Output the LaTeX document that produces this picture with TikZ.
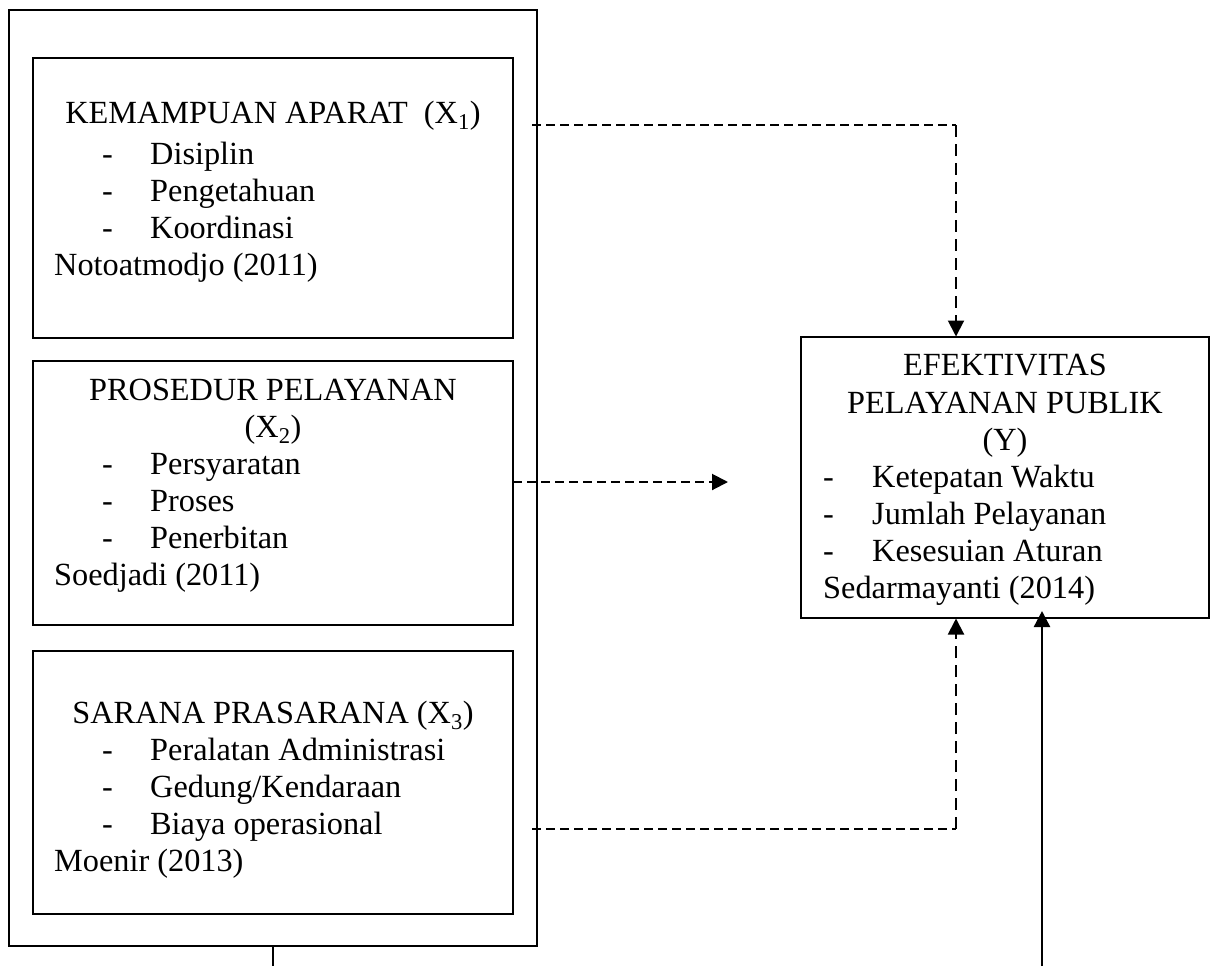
\documentclass[tikz,border=0pt]{standalone}
\usepackage{fontspec}
\setmainfont{Liberation Serif}
\usetikzlibrary{arrows.meta}
\begin{document}
\begin{tikzpicture}[x=1pt,y=-1pt,
  boxnode/.style={draw, line width=2pt, inner sep=0pt, minimum width=#1},
  txt/.style={inner sep=0pt, font=\fontsize{32.3}{37}\selectfont},
  hdash/.style={line width=2pt, dash pattern=on 9pt off 5pt},
  vdash/.style={line width=2pt, dash pattern=on 12pt off 7pt},
  tip/.style={-{Triangle[length=16pt,width=16pt]}},
  solidconn/.style={line width=2.4pt}]
\useasboundingbox (0,0) rectangle (1217,966);
% boxes
\node[boxnode=528pt, minimum height=936pt] (outer) at (273,478) {};
\node[boxnode=480pt, minimum height=280pt] (b1) at (273,198) {};
\node[boxnode=480pt, minimum height=264pt] (b2) at (273,493) {};
\node[boxnode=480pt, minimum height=263pt] (b3) at (273,782.5) {};
\node[boxnode=408pt, minimum height=281pt] (yb) at (1005,477.5) {};
% box 1 text
\node[txt, anchor=base] (t1a) at (273,123) {KEMAMPUAN APARAT\ \ (X\textsubscript{1})};
\node[txt, anchor=base west] (t1b1) at (102,164) {-};
\node[txt, anchor=base west] (t1b) at (150,164) {Disiplin};
\node[txt, anchor=base west] (t1c1) at (102,201) {-};
\node[txt, anchor=base west] (t1c) at (150,201) {Pengetahuan};
\node[txt, anchor=base west] (t1d1) at (102,238) {-};
\node[txt, anchor=base west] (t1d) at (150,238) {Koordinasi};
\node[txt, anchor=base west] (t1e) at (54,275) {Notoatmodjo (2011)};
% box 2 text
\node[txt, anchor=base] (t2a) at (273,400) {PROSEDUR PELAYANAN};
\node[txt, anchor=base] (t2b) at (273,437) {(X\textsubscript{2})};
\node[txt, anchor=base west] (t2c1) at (102,474) {-};
\node[txt, anchor=base west] (t2c) at (150,474) {Persyaratan};
\node[txt, anchor=base west] (t2d1) at (102,511) {-};
\node[txt, anchor=base west] (t2d) at (150,511) {Proses};
\node[txt, anchor=base west] (t2e1) at (102,548) {-};
\node[txt, anchor=base west] (t2e) at (150,548) {Penerbitan};
\node[txt, anchor=base west] (t2f) at (54,585) {Soedjadi (2011)};
% box 3 text
\node[txt, anchor=base] (t3a) at (273,723) {SARANA PRASARANA (X\textsubscript{3})};
\node[txt, anchor=base west] (t3b1) at (102,760) {-};
\node[txt, anchor=base west] (t3b) at (150,760) {Peralatan Administrasi};
\node[txt, anchor=base west] (t3c1) at (102,797) {-};
\node[txt, anchor=base west] (t3c) at (150,797) {Gedung/Kendaraan};
\node[txt, anchor=base west] (t3d1) at (102,834) {-};
\node[txt, anchor=base west] (t3d) at (150,834) {Biaya operasional};
\node[txt, anchor=base west] (t3e) at (54,871) {Moenir (2013)};
% Y box text
\node[txt, anchor=base] (tya) at (1005,375) {EFEKTIVITAS};
\node[txt, anchor=base] (tyb) at (1005,413) {PELAYANAN PUBLIK};
\node[txt, anchor=base] (tyc) at (1005,450) {(Y)};
\node[txt, anchor=base west] (tyd1) at (823,487) {-};
\node[txt, anchor=base west] (tyd) at (872,487) {Ketepatan Waktu};
\node[txt, anchor=base west] (tye1) at (823,524) {-};
\node[txt, anchor=base west] (tye) at (872,524) {Jumlah Pelayanan};
\node[txt, anchor=base west] (tyf1) at (823,561) {-};
\node[txt, anchor=base west] (tyf) at (872,561) {Kesesuian Aturan};
\node[txt, anchor=base west] (tyg) at (823,598) {Sedarmayanti (2014)};
% connector end points
\coordinate (c1) at (532,125);
\coordinate (k1) at (956,125);
\coordinate (e1) at (956,336.5);
\coordinate (c2) at (513,482);
\coordinate (e2) at (728,482);
\coordinate (c3) at (532,829);
\coordinate (k3) at (956,829);
\coordinate (e3) at (956,618.5);
\coordinate (c4) at (1042,966);
\coordinate (e4) at (1042,611);
\coordinate (c5) at (273,966);
% connectors
\draw[hdash] (c1) -- (k1);
\draw[vdash, tip] (k1) -- (e1);
\draw[hdash, tip] (c2) -- (e2);
\draw[hdash] (c3) -- (k3);
\draw[vdash, tip] (k3) -- (e3);
\draw[solidconn, tip] (c4) -- (e4);
\draw[line width=2pt] (outer.south) -- (c5);
\end{tikzpicture}
\end{document}
